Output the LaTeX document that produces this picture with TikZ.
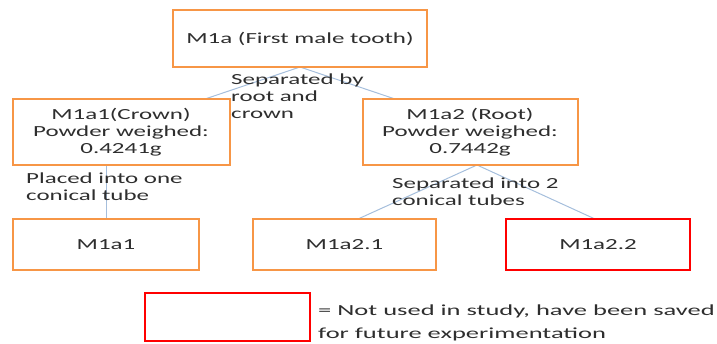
\documentclass[tikz,border=0pt]{standalone}
\usepackage{fontspec}
\setmainfont{Carlito}[FakeStretch=1.62]
\newfontfamily\legendfont{Carlito}[FakeStretch=1.72]
\begin{document}
\begin{tikzpicture}[x=1pt,y=-1pt,
  every node/.style={font=\fontsize{15.4}{17}\selectfont, text=black!82},
  orangebox/.style={draw=boxorange, line width=2.4pt, fill=white, inner sep=0pt},
  redbox/.style={draw=red, line width=2.4pt, fill=white, inner sep=0pt},
  link/.style={draw=linkblue, line width=1pt},
  note/.style={align=left, anchor=north west, inner sep=0pt}
]
\definecolor{boxorange}{RGB}{247,150,70}
\definecolor{linkblue}{RGB}{165,190,220}
\useasboundingbox (0,0) rectangle (717,343);

% connectors (drawn first so boxes sit on top)
\coordinate (topA) at (300,67);
\coordinate (c1top) at (205,99);
\coordinate (c2top) at (395,99);
\coordinate (c2bot) at (477,165);
\coordinate (s1top) at (358,219);
\coordinate (s2top) at (595,219);
\coordinate (c1bot) at (106,165);
\coordinate (t1top) at (106,219);
\draw[link] (topA) -- (c1top);
\draw[link] (topA) -- (c2top);
\draw[link] (c1bot) -- (t1top);
\draw[link] (c2bot) -- (s1top);
\draw[link] (c2bot) -- (s2top);

% boxes
\draw[orangebox] (173,10) rectangle (427,67);
\node (top) at (300,39) {M1a (First male tooth)};

\draw[orangebox] (13,99) rectangle (230,165);
\node[align=center] (crown) at (121,132) {M1a1(Crown)\\Powder weighed:\\0.4241g};

\draw[orangebox] (363,99) rectangle (578,165);
\node[align=center] (root) at (470,132) {M1a2 (Root)\\Powder weighed:\\0.7442g};

\draw[orangebox] (13,219) rectangle (199,270);
\node (t1) at (106,245) {M1a1};

\draw[orangebox] (253,219) rectangle (436,270);
\node (t21) at (344.5,245) {M1a2.1};

\draw[redbox] (506,219) rectangle (690,270);
\node (t22) at (598,245) {M1a2.2};

% connector labels
\node[note] (sep1) at (231,74) {Separated by\\root and\\crown};
\node[note] (place) at (26,173) {Placed into one\\conical tube};
\node[note] (sep2) at (392,178) {Separated into 2\\conical tubes};

% legend
\draw[redbox] (145,293) rectangle (310,341);
\node[note, font=\legendfont\fontsize{15.4}{23}\selectfont] (legend) at (318,305)
  {= Not used in study, have been saved\\for future experimentation};
\end{tikzpicture}
\end{document}
